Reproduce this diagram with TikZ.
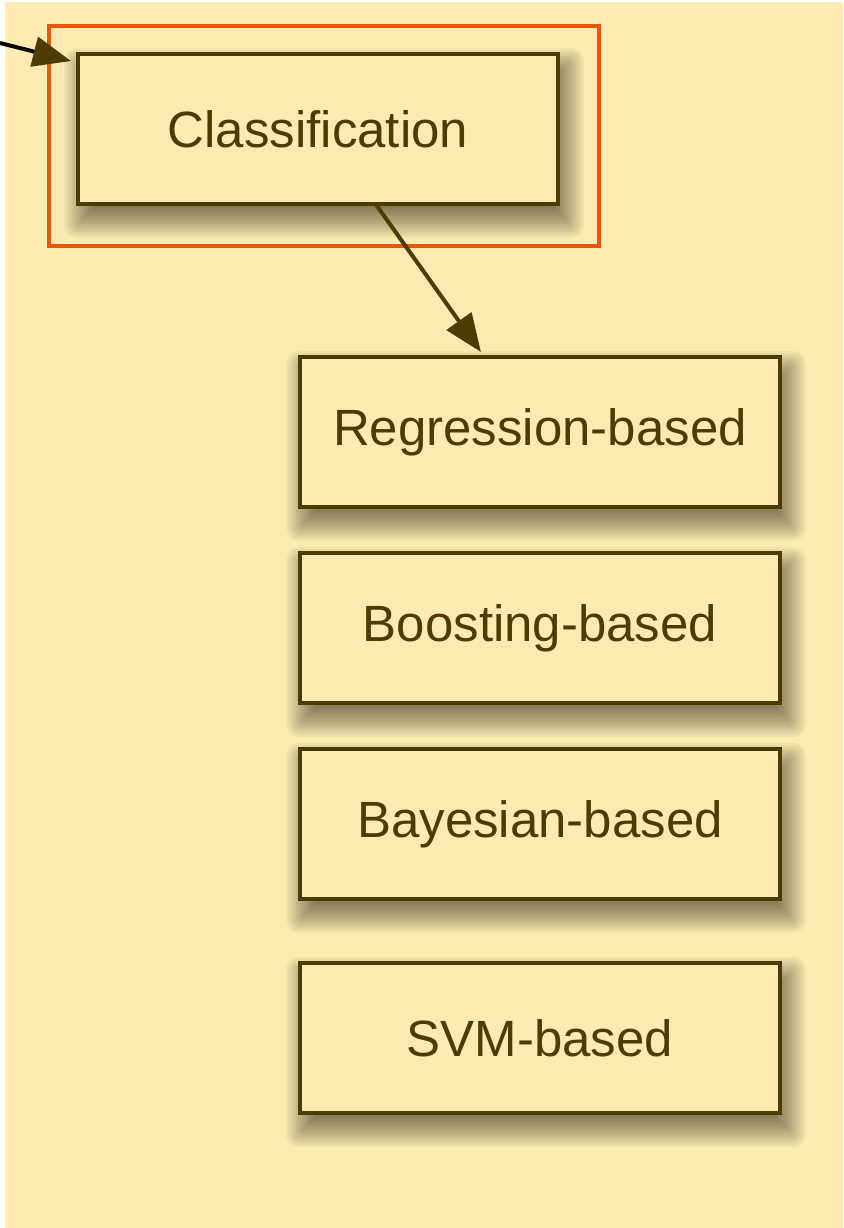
\documentclass[tikz,border=0pt]{standalone}
\usepackage{fontspec}
\setmainfont{Liberation Sans}
\usepackage{tikz}
\usetikzlibrary{arrows.meta,positioning,calc}
\usepackage{xcolor}

\definecolor{panelbg}{HTML}{FEEBB3}
\definecolor{inkbrown}{HTML}{4E3B00}
\definecolor{hiorange}{HTML}{E8570B}

\pgfdeclarelayer{under}
\pgfsetlayers{under,main}

\begin{document}
\begin{tikzpicture}[
    x=0.5pt, y=-0.5pt,
    node distance=23pt,
    box/.style={rectangle, draw=inkbrown, line width=2pt, fill=panelbg,
        minimum width=240pt, minimum height=75pt, inner sep=0pt, outer sep=0pt,
        text=inkbrown, font=\fontsize{25.5}{30}\selectfont},
    shade ring/.style={fill=black!80!inkbrown, opacity=0.04},
    frame/.style={draw=hiorange, line width=2.2pt},
    arrow/.style={-{Triangle[length=19pt, width=15pt]}, line width=2pt, draw=inkbrown}
]
\useasboundingbox (0,0) rectangle (843,1228);
\begin{pgfonlayer}{under}
\fill[panelbg] (5,2) rectangle (843,1228);
\end{pgfonlayer}

\node[box] (cls) at (318,129) {Classification};
\node[box] (reg) at (540,432) {Regression-based};
\node[box, below=of reg] (boost) {Boosting-based};
\node[box, below=of boost] (bayes) {Bayesian-based};
\node[box, below=32pt of bayes] (svm) {SVM-based};

% soft drop shadows, stacked translucent rectangles
\begin{pgfonlayer}{under}
\foreach \n in {cls,reg,boost,bayes,svm}{
  \foreach \e in {-16,-14,...,20}{
    \pgfmathsetmacro\rad{max(0,0.3*\e)}
    \fill[shade ring, rounded corners=\rad pt]
      ($(\n.north west)+(6-\e,14-\e)$) rectangle ($(\n.south east)+(6+\e,14+\e)$);
  }
}
\end{pgfonlayer}

% highlight round the selected category
\draw[frame] ($(cls.north west)+(-29,-28)$) rectangle ($(cls.south east)+(41,42)$);

% incoming link from the left
\coordinate (in) at (0,43);
\draw[-{Triangle[length=19pt, width=15pt, inkbrown]}, line width=2pt, black!85!inkbrown]
    (in) -- ($(cls.north west)+(-7,7)$);

\draw[arrow] ($(cls.south west)!0.62!(cls.south east)$)
    -- ($(reg.north west)!0.377!(reg.north east)+(0,-5)$);
\end{tikzpicture}
\end{document}
